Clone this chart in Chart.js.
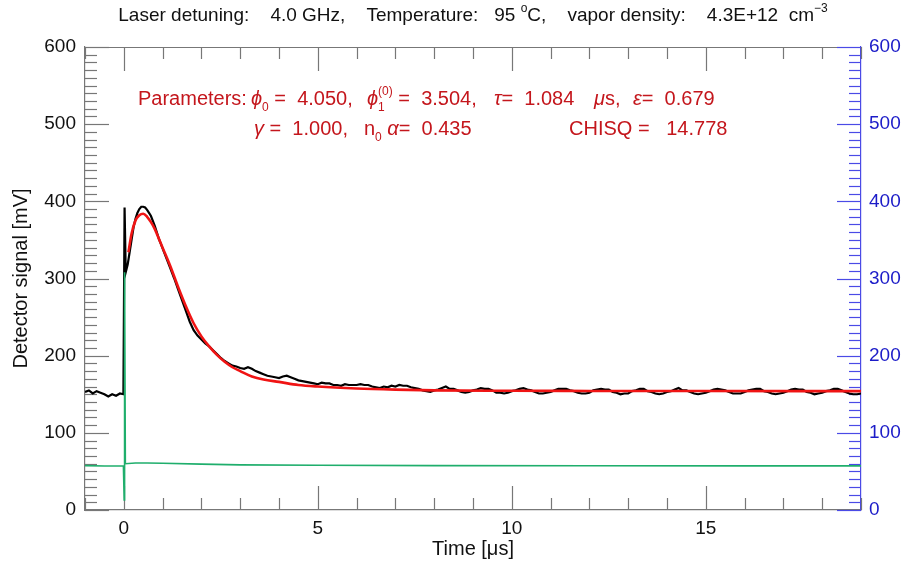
<!DOCTYPE html>
<html>
<head>
<meta charset="utf-8">
<script src="https://cdn.jsdelivr.net/npm/chart.js@4.4.1/dist/chart.umd.min.js"></script>
<style>
  body { margin: 0; background: #fff; }
  #wrap { width: 908px; height: 562px; }
</style>
</head>
<body>
<div id="wrap"><canvas id="fitChart" width="908" height="562"></canvas></div>
<script>
// measured trace (black), up to 2 us on an uneven grid
const blackTimesEarly = [-1.0,-0.9,-0.8,-0.7,-0.6,-0.5,-0.4,-0.3,-0.2,-0.1,-0.01,0.02,0.05,
  0.1,0.15,0.2,0.25,0.3,0.35,0.4,0.45,0.5,0.55,0.6,0.65,
  0.7,0.8,0.9,1.0,1.1,1.2,1.3,1.4,1.5,1.6,1.7,1.8,1.9];
const blackValuesEarly = [153,155,151,154,152,150,147,150,148,151,150,392,308,
  318,334,350,366,377,385,390,393,393,392,389,385,
  381,368,352,339,326,313,300,286,272,258,244,233,226];

// measured trace from 2.0 us on, sampled every 0.1 us
const tailStart = 2.0;
const tailStep = 0.1;
const blackValuesTail = [
  221,216,212,207,202,197,193,190,187,186,
  184,183,185,183,180,178,176,174,173,172,
  171,173,174,172,170,168,167,166,165,164,
  163,165,164,164,162,162,161,163,162,162,
  162,163,162,162,160,159,158,160,159,161,
  160,162,161,161,159,158,157,155,154,153,
  155,156,158,160,157,157,155,153,152,153,
  155,156,158,157,157,155,152,152,151,152,
  154,155,157,158,156,155,153,151,151,152,
  153,155,157,157,157,155,154,152,151,151,
  152,155,156,157,156,156,153,152,150,151,
  151,154,155,157,157,154,153,151,150,151,
  153,154,156,158,155,155,153,151,150,151,
  152,154,156,157,156,155,153,151,151,151,
  153,155,156,157,157,154,153,151,150,151,
  152,154,156,157,156,156,153,152,150,151,
  152,154,155,157,157,155,153,151,150,150,
  151
];

// model fit (red)
const fitTimes = [0.12,0.2,0.3,0.4,0.5,0.6,0.7,0.8,0.9,1.0,
  1.2,1.4,1.6,1.8,2.0,2.2,2.4,2.6,2.8,3.0,
  3.3,3.6,4.0,4.5,5.0,6.0,7.0,8.0,10.0,12.0,15.0,19.0];
const fitValues = [334,358,375,382,384,380,373,364,352,340,
  316,289,264,242,225,212,201,192,185,180,
  173,169,166,162,160,157.5,156,155,154.5,154.3,154.2,154];

// reference channel (green)
const refTimes = [-1.0,-0.5,-0.01,0.01,0.02,0.04,0.3,0.6,1.0,2.0,3.0,5.0,8.0,12.0,16.0,19.0];
const refValues = [57.5,57,57,13,308,60,61,61,60.5,59.5,58.5,58,57.5,57.3,57.2,57.2];

const xTicks = [0, 5, 10, 15];
const yTicks = [0, 100, 200, 300, 400, 500, 600];

const FONT = '"Liberation Sans", Arial, Helvetica, "DejaVu Sans", sans-serif';
const BLUE_AXIS = '#4a4ae6';
const BLUE_TEXT = '#1c1cc8';
const GRAY_AXIS = '#777';
const RED_TEXT = '#c4161c';

const toPoints = (xs, ys) => xs.map((t, i) => ({ x: t, y: ys[i] }));

const blackPoints = toPoints(blackTimesEarly, blackValuesEarly)
  .concat(blackValuesTail.map((v, i) => ({ x: +(tailStart + i * tailStep).toFixed(2), y: v })));

// draws a run of text pieces; sub/sup pieces are smaller and shifted,
// "at" restarts the run at a given x. Returns the end x.
function drawRich(ctx, parts, x, y, size, color, dry) {
  let cx = x;
  ctx.fillStyle = color;
  ctx.textBaseline = 'alphabetic';
  ctx.textAlign = 'left';
  parts.forEach(p => {
    if (p.at !== undefined) cx = p.at;
    const small = p.sub || p.sup;
    const fs = small ? Math.round(size * 0.62) : size;
    ctx.font = (p.it ? 'italic ' : '') + fs + 'px ' + FONT;
    const dy = p.sub ? size * 0.28 : (p.sup ? -size * 0.5 : 0);
    if (!dry) ctx.fillText(p.t, cx, y + dy);
    if (!p.stack) cx += ctx.measureText(p.t).width;
  });
  return cx;
}

const inwardTicks = {
  id: 'inwardTicks',
  beforeDatasetsDraw(chart) {
    const { ctx, chartArea: a, scales } = chart;
    const x = scales.x, y = scales.y;
    ctx.save();
    ctx.lineWidth = 1.2;
    ctx.strokeStyle = GRAY_AXIS;
    ctx.beginPath();
    ctx.moveTo(a.left, a.top + 0.5);
    ctx.lineTo(a.right, a.top + 0.5);
    ctx.stroke();
    for (let v = Math.ceil(x.min); v <= x.max; v++) {
      const px = Math.round(x.getPixelForValue(v)) + 0.5;
      const len = v % 5 === 0 ? 24 : 12;
      ctx.beginPath();
      ctx.moveTo(px, a.bottom);
      ctx.lineTo(px, a.bottom - len);
      ctx.moveTo(px, a.top);
      ctx.lineTo(px, a.top + len);
      ctx.stroke();
    }
    for (let v = y.min; v <= y.max; v += 10) {
      const py = Math.round(y.getPixelForValue(v)) + 0.5;
      const len = v % 100 === 0 ? 24 : 12;
      ctx.strokeStyle = GRAY_AXIS;
      ctx.beginPath();
      ctx.moveTo(a.left, py);
      ctx.lineTo(a.left + len, py);
      ctx.stroke();
      ctx.strokeStyle = BLUE_AXIS;
      ctx.beginPath();
      ctx.moveTo(a.right, py);
      ctx.lineTo(a.right - len, py);
      ctx.stroke();
    }
    ctx.restore();
  }
};

const textLayer = {
  id: 'textLayer',
  afterDraw(chart) {
    const ctx = chart.ctx;
    const a = chart.chartArea;
    ctx.save();
    const title = [
      { t: 'Laser detuning:    4.0 GHz,    Temperature:   95 ' },
      { t: 'o', sup: true },
      { t: 'C,    vapor density:    4.3E+12  cm' },
      { t: '\u22123', sup: true }
    ];
    const tw = drawRich(ctx, title, 0, 0, 19, '#111', true);
    drawRich(ctx, title, (a.left + a.right) / 2 - tw / 2, 21, 19, '#111');

    drawRich(ctx, [
      { t: 'Parameters:', at: 138 },
      { t: '\u03D5', it: true, at: 251 }, { t: '0', sub: true },
      { t: ' =  4.050,' },
      { t: '\u03D5', it: true, at: 367 }, { t: '1', sub: true, stack: true }, { t: '(0)', sup: true },
      { t: ' =  3.504,' },
      { t: '\u03C4', it: true, at: 494 }, { t: '=  1.084' },
      { t: '\u03BC', it: true, at: 594 }, { t: 's, ' },
      { t: '\u03B5', it: true, at: 633 }, { t: '=  0.679' }
    ], 138, 105, 20, RED_TEXT);

    drawRich(ctx, [
      { t: '\u03B3', it: true, at: 254 }, { t: ' =  1.000,' },
      { t: 'n', at: 364 }, { t: '0', sub: true },
      { t: ' ' }, { t: '\u03B1', it: true }, { t: '=  0.435' },
      { t: 'CHISQ =   14.778', at: 569 }
    ], 254, 135, 20, RED_TEXT);
    ctx.restore();
  }
};

Chart.defaults.font.family = FONT;
Chart.defaults.color = '#111';

const ctx = document.getElementById('fitChart').getContext('2d');
new Chart(ctx, {
  type: 'line',
  data: {
    datasets: [
      { label: 'fit', data: toPoints(fitTimes, fitValues), borderColor: '#f01414', borderWidth: 2.6,
        pointRadius: 0, cubicInterpolationMode: 'monotone', order: 0, yAxisID: 'y' },
      { label: 'reference', data: toPoints(refTimes, refValues), borderColor: '#1fae6c', borderWidth: 1.6,
        pointRadius: 0, tension: 0, order: 1, yAxisID: 'y' },
      { label: 'signal', data: blackPoints, borderColor: '#000', borderWidth: 2.2,
        pointRadius: 0, tension: 0, order: 2, yAxisID: 'y' }
    ]
  },
  options: {
    responsive: false,
    animation: false,
    devicePixelRatio: 1,
    layout: { padding: { top: 47, left: 0, right: 0, bottom: 0 } },
    plugins: { legend: { display: false }, tooltip: { enabled: false } },
    scales: {
      x: {
        type: 'linear', min: -1, max: 19,
        afterBuildTicks: s => { s.ticks = xTicks.map(v => ({ value: v })); },
        afterFit: s => { s.height = 52; },
        grid: { display: false, drawTicks: false },
        border: { display: true, color: GRAY_AXIS, width: 1.2 },
        ticks: { padding: 7, font: { size: 19 }, color: '#111', maxRotation: 0 },
        title: { display: true, text: 'Time [\u03BCs]', font: { size: 20 }, color: '#111', padding: { top: 0, bottom: 1 } }
      },
      y: {
        type: 'linear', position: 'left', min: 0, max: 600,
        afterBuildTicks: s => { s.ticks = yTicks.map(v => ({ value: v })); },
        afterFit: s => { s.width = 85; },
        grid: { display: false, drawTicks: false },
        border: { display: true, color: GRAY_AXIS, width: 1.2 },
        ticks: { padding: 9, font: { size: 19 }, color: '#111' },
        title: { display: true, text: 'Detector signal [mV]', font: { size: 20 }, color: '#111', padding: { top: 9, bottom: 0 } }
      },
      y2: {
        type: 'linear', position: 'right', min: 0, max: 600,
        afterBuildTicks: s => { s.ticks = yTicks.map(v => ({ value: v })); },
        afterFit: s => { s.width = 47; },
        grid: { display: false, drawTicks: false },
        border: { display: true, color: BLUE_AXIS, width: 1.2 },
        ticks: { padding: 8, font: { size: 19 }, color: BLUE_TEXT }
      }
    }
  },
  plugins: [inwardTicks, textLayer]
});
</script>
</body>
</html>
